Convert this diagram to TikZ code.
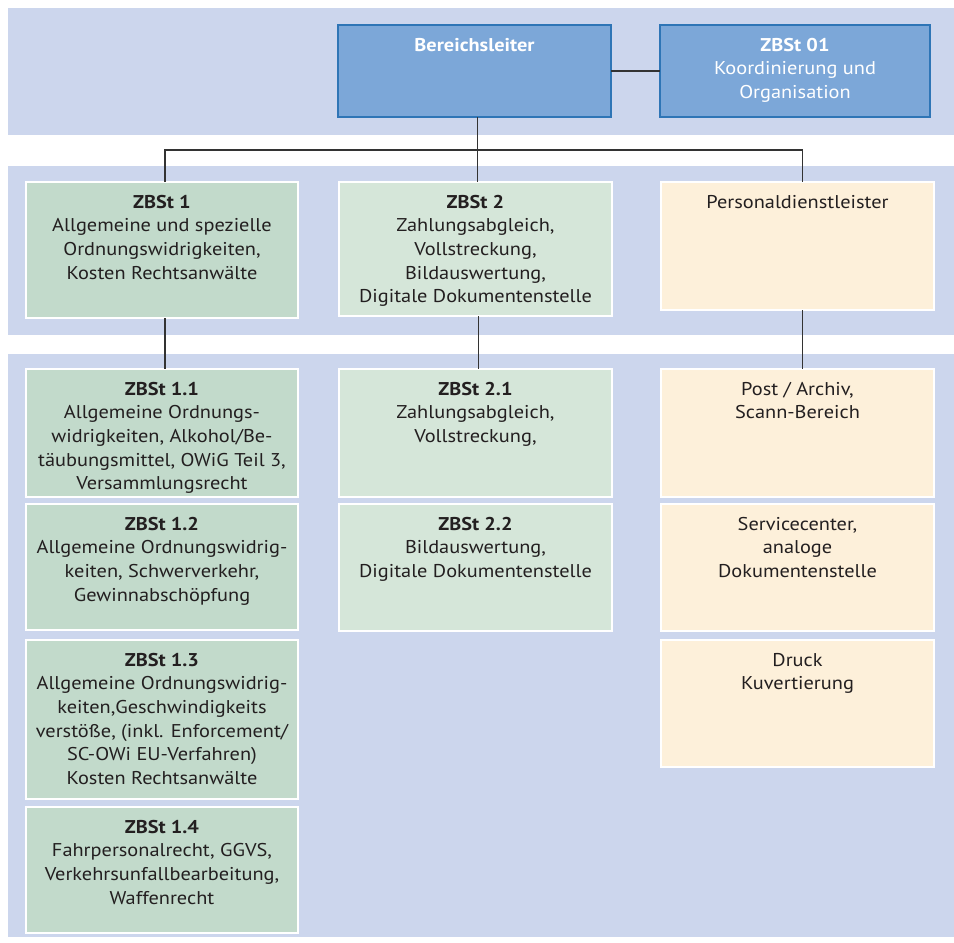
\documentclass[tikz,border=0pt]{standalone}
\usepackage{fontspec}
\setmainfont{PT Sans}[FakeStretch=1.1]
\definecolor{band}{RGB}{204,214,237}
\definecolor{bluefill}{RGB}{124,167,216}
\definecolor{blueline}{RGB}{46,117,182}
\definecolor{greendark}{RGB}{194,218,203}
\definecolor{greenlight}{RGB}{213,230,217}
\definecolor{beige}{RGB}{253,240,218}
\definecolor{txt}{RGB}{35,31,32}
\definecolor{conn}{RGB}{51,51,51}
\newcommand\boxtxt[3]{\parbox[c][#2pt][t]{#1pt}{\centering\vspace*{13pt}#3\par}}
\tikzset{
  unit/.style={inner sep=0pt, outer sep=0pt, anchor=north west, draw=white, line width=1.2pt, text=txt, font=\fontsize{18.5}{23.6}\selectfont},
  headbox/.style={unit, fill=bluefill, draw=blueline, text=white},
  gdark/.style={unit, fill=greendark},
  glight/.style={unit, fill=greenlight},
  beigebox/.style={unit, fill=beige},
  conn/.style={draw=conn, line width=1.2pt},
  bandfill/.style={fill=band}
}
\begin{document}
\begin{tikzpicture}[x=1pt,y=-1pt]
\useasboundingbox (0,0) rectangle (954,943);
\fill[white] (0,0) rectangle (954,943);
% bands
\fill[bandfill] (8,8) rectangle (954,135);
\fill[bandfill] (8,166) rectangle (954,335);
\fill[bandfill] (8,354) rectangle (954,937);
% top row
\node[headbox] (bl) at (338,25) {\boxtxt{273}{92}{\textbf{Bereichsleiter}}};
\node[headbox] (z01) at (660,25) {\boxtxt{270}{92}{\textbf{ZBSt 01}\\Koordinierung und\\Organisation}};
% second row
\node[gdark] (z1) at (26,182) {\boxtxt{272}{136}{\textbf{ZBSt 1}\\Allgemeine und spezielle\\Ordnungswidrigkeiten,\\Kosten Rechtsanwälte}};
\node[glight] (z2) at (339,182) {\boxtxt{273}{134}{\textbf{ZBSt 2}\\Zahlungsabgleich,\\Vollstreckung,\\Bildauswertung,\\Digitale Dokumentenstelle}};
\node[beigebox] (pd) at (661,182) {\boxtxt{273}{128}{Personaldienstleister}};
% third area
\node[gdark] (z11) at (26,369) {\boxtxt{272}{128}{\textbf{ZBSt 1.1}\\Allgemeine Ordnungs-\\widrigkeiten, Alkohol/Be-\\täubungsmittel, OWiG Teil 3,\\Versammlungsrecht}};
\node[gdark] (z12) at (26,504) {\boxtxt{272}{126}{\textbf{ZBSt 1.2}\\Allgemeine Ordnungswidrig-\\keiten, Schwerverkehr,\\Gewinnabschöpfung}};
\node[gdark] (z13) at (26,640) {\boxtxt{272}{159}{\textbf{ZBSt 1.3}\\Allgemeine Ordnungswidrig-\\keiten,Geschwindigkeits\\verstöße, (inkl. Enforcement/\\SC-OWi EU-Verfahren)\\Kosten Rechtsanwälte}};
\node[gdark] (z14) at (26,807) {\boxtxt{272}{126}{\textbf{ZBSt 1.4}\\Fahrpersonalrecht, GGVS,\\Verkehrsunfallbearbeitung,\\Waffenrecht}};
\node[glight] (z21) at (339,369) {\boxtxt{273}{128}{\textbf{ZBSt 2.1}\\Zahlungsabgleich,\\Vollstreckung,}};
\node[glight] (z22) at (339,504) {\boxtxt{273}{127}{\textbf{ZBSt 2.2}\\Bildauswertung,\\Digitale Dokumentenstelle}};
\node[beigebox] (pa) at (661,369) {\boxtxt{273}{128}{Post / Archiv,\\Scann-Bereich}};
\node[beigebox] (sc) at (661,504) {\boxtxt{273}{127}{Servicecenter,\\analoge\\Dokumentenstelle}};
\node[beigebox] (dr) at (661,640) {\boxtxt{273}{127}{Druck\\Kuvertierung}};
% connectors
\coordinate (bar) at (0,150);
\draw[conn] (bl.east) -- (z01.west);
\draw[conn] ([xshift=3pt]bl.south) -- ([xshift=3pt]bl.south |- z2.north);
\draw[conn] ([xshift=3pt]z1.north) |- ([xshift=5pt]bar -| pd.north) -- ([xshift=5pt]pd.north);
\draw[conn] ([xshift=3pt]z1.south) -- ([xshift=3pt]z11.north);
\draw[conn] ([xshift=3pt]z2.south) -- ([xshift=3pt]z21.north);
\draw[conn] ([xshift=5pt]pd.south) -- ([xshift=5pt]pa.north);
\end{tikzpicture}
\end{document}
